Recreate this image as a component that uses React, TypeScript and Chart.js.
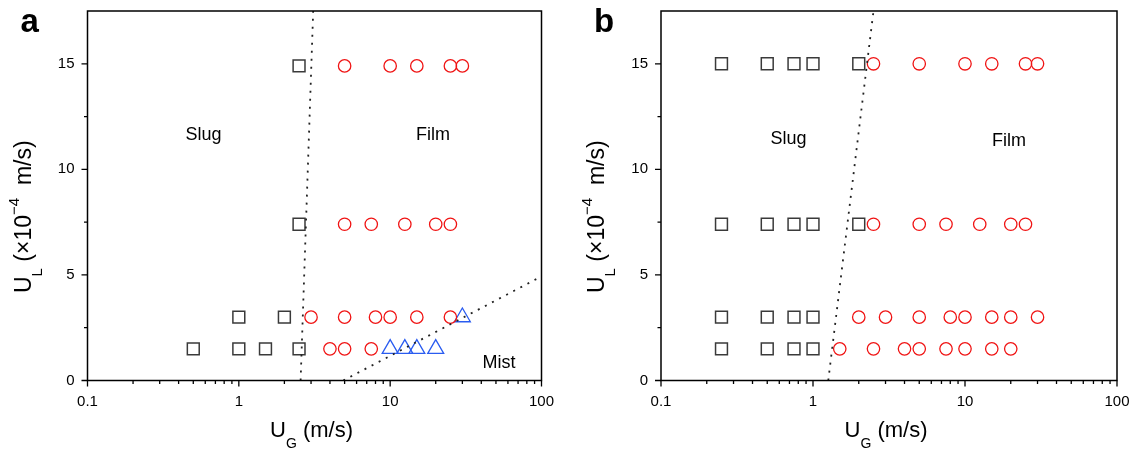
import React, { useEffect, useRef } from "react";
import { Chart, registerables } from "chart.js";

Chart.register(...registerables);

const FONT = "'Liberation Sans', Arial, Helvetica, sans-serif";

// ---------- Panel a data ----------
const rowsA = [14.9, 7.4, 3, 1.5];
const slugXA = [[2.5], [2.5], [1, 2], [0.5, 1, 1.5, 2.5]];
const filmXA = [
  [5, 10, 15, 25, 30],
  [5, 7.5, 12.5, 20, 25],
  [3, 5, 8, 10, 15, 25],
  [4, 5, 7.5],
];
const mistXA = [[], [], [30], [10, 12.5, 15, 20]];
const boundaryA1 = [[2.56, 0], [3.1, 17.5]];
const boundaryA2 = [[4.9, 0], [100, 4.93]];
const regionLabelsA = [
  { text: "Slug", x: 0.584, y: 11.41 },
  { text: "Film", x: 19.2, y: 11.41 },
  { text: "Mist", x: 52.3, y: 0.6 },
];

// ---------- Panel b data ----------
const rowsB = [15, 7.4, 3, 1.5];
const slugXB = [
  [0.25, 0.5, 0.75, 1, 2],
  [0.25, 0.5, 0.75, 1, 2],
  [0.25, 0.5, 0.75, 1],
  [0.25, 0.5, 0.75, 1],
];
const filmXB = [
  [2.5, 5, 10, 15, 25, 30],
  [2.5, 5, 7.5, 12.5, 20, 25],
  [2, 3, 5, 8, 10, 15, 20, 30],
  [1.5, 2.5, 4, 5, 7.5, 10, 15, 20],
];
const boundaryB = [[1.26, 0], [2.5, 17.5]];
const regionLabelsB = [
  { text: "Slug", x: 0.691, y: 11.18 },
  { text: "Film", x: 19.45, y: 11.09 },
];

// ---------- Axes ----------
const X_MIN = 0.1;
const X_MAX = 100;
const Y_MIN = 0;
const Y_MAX = 17.5;
const yMajorTicks = [0, 5, 10, 15];
const yMinorTicks = [2.5, 7.5, 12.5];

const toPoints = (rows: number[], xs: number[][]) =>
  rows.flatMap((y, i) => xs[i].map((x) => ({ x, y })));
const toLine = (pts: number[][]) => pts.map(([x, y]) => ({ x, y }));

type Seg = { t: string; size: number; dy: number };

function drawSegs(ctx: CanvasRenderingContext2D, segs: Seg[], x0: number, y0: number, align: "left" | "center") {
  let total = 0;
  for (const s of segs) {
    ctx.font = `${s.size}px ${FONT}`;
    total += ctx.measureText(s.t).width;
  }
  let x = align === "center" ? x0 - total / 2 : x0;
  ctx.textAlign = "left";
  ctx.textBaseline = "alphabetic";
  for (const s of segs) {
    ctx.font = `${s.size}px ${FONT}`;
    ctx.fillText(s.t, x, y0 + s.dy);
    x += ctx.measureText(s.t).width;
  }
}

const xTitle: Seg[] = [
  { t: "U", size: 22, dy: 0 },
  { t: "G", size: 14, dy: 11 },
  { t: " (m/s)", size: 22, dy: 0 },
];
const yTitle: Seg[] = [
  { t: "U", size: 23, dy: 0 },
  { t: "L", size: 15, dy: 11 },
  { t: " (\u00d710", size: 23, dy: 0 },
  { t: "\u22124", size: 15, dy: -12 },
  { t: "  m/s)", size: 23, dy: 0 },
];

const decorPlugin = {
  id: "decor",
  afterDraw(chart: any, _args: any, opts: any) {
    const { ctx, chartArea: ca, scales } = chart;
    const xs = scales.x;
    const ys = scales.y;
    ctx.save();
    ctx.strokeStyle = "#000";
    ctx.lineWidth = 1.5;
    ctx.strokeRect(ca.left, ca.top, ca.right - ca.left, ca.bottom - ca.top);
    ctx.lineWidth = 1.3;
    ctx.beginPath();
    for (let e = -1; e <= 2; e++) {
      for (let m = 1; m <= 9; m++) {
        const v = m * Math.pow(10, e);
        if (v > X_MAX * 1.0001) break;
        const px = xs.getPixelForValue(v);
        const len = m === 1 ? 6 : 3.5;
        ctx.moveTo(px, ca.bottom);
        ctx.lineTo(px, ca.bottom + len);
      }
    }
    for (const v of yMajorTicks) {
      const py = ys.getPixelForValue(v);
      ctx.moveTo(ca.left, py);
      ctx.lineTo(ca.left - 6, py);
    }
    for (const v of yMinorTicks) {
      const py = ys.getPixelForValue(v);
      ctx.moveTo(ca.left, py);
      ctx.lineTo(ca.left - 3.5, py);
    }
    ctx.stroke();

    ctx.fillStyle = "#000";
    // region labels
    ctx.font = `18px ${FONT}`;
    ctx.textAlign = "center";
    ctx.textBaseline = "alphabetic";
    for (const l of opts.labels) {
      ctx.fillText(l.text, xs.getPixelForValue(l.x), ys.getPixelForValue(l.y));
    }
    // panel letter
    ctx.font = `bold 33px ${FONT}`;
    ctx.textAlign = "left";
    ctx.fillText(opts.letter, ca.left - 67, 32);
    // x title
    drawSegs(ctx, xTitle, (ca.left + ca.right) / 2 - 3, ca.bottom + 56.5, "center");
    // y title
    ctx.save();
    ctx.translate(ca.left - 57, 293);
    ctx.rotate(-Math.PI / 2);
    drawSegs(ctx, yTitle, 0, 0, "left");
    ctx.restore();
    ctx.restore();
  },
};

const isDecade = (v: number) => Math.abs(Math.log10(v) - Math.round(Math.log10(v))) < 1e-6;

function makeConfig(datasets: any[], yAxisWidth: number, padRight: number, letter: string, labels: any[]) {
  return {
    type: "scatter",
    data: { datasets },
    options: {
      animation: false,
      responsive: false,
      devicePixelRatio: 1,
      events: [],
      layout: { padding: { left: 0, right: padRight, top: 11, bottom: 0 } },
      plugins: {
        legend: { display: false },
        tooltip: { enabled: false },
        decor: { letter, labels },
      },
      scales: {
        x: {
          type: "logarithmic",
          min: X_MIN,
          max: X_MAX,
          grid: { display: false, drawTicks: false },
          border: { display: false },
          ticks: {
            autoSkip: false,
            maxRotation: 0,
            minRotation: 0,
            padding: 12,
            color: "#000",
            font: { family: FONT, size: 15 },
            callback: (v: number) => (isDecade(v) ? (v < 1 ? "0.1" : String(Math.round(v))) : ""),
          },
          afterFit: (s: any) => {
            s.height = 68.5;
            s.paddingLeft = 0;
            s.paddingRight = 0;
          },
        },
        y: {
          type: "linear",
          min: Y_MIN,
          max: Y_MAX,
          grid: { display: false, drawTicks: false },
          border: { display: false },
          ticks: {
            stepSize: 5,
            includeBounds: false,
            padding: 13,
            color: "#000",
            font: { family: FONT, size: 15 },
            callback: (v: number) => (v % 5 === 0 ? String(v) : ""),
          },
          afterFit: (s: any) => {
            s.width = yAxisWidth;
            s.paddingTop = 0;
            s.paddingBottom = 0;
          },
        },
      },
    },
    plugins: [decorPlugin],
  };
}

const lineStyle = {
  showLine: true,
  pointRadius: 0,
  borderColor: "#222",
  borderWidth: 1.8,
  borderDash: [2, 6],
  fill: false,
};
const squareStyle = {
  pointStyle: "rect",
  pointRadius: 8.4,
  pointBorderWidth: 1.5,
  borderColor: "#3a3a3a",
  backgroundColor: "rgba(0,0,0,0)",
};
const circleStyle = {
  pointStyle: "circle",
  pointRadius: 6.2,
  pointBorderWidth: 1.3,
  borderColor: "#f01414",
  backgroundColor: "rgba(0,0,0,0)",
};
const triangleStyle = {
  pointStyle: "triangle",
  pointRadius: 9.2,
  pointBorderWidth: 1.3,
  borderColor: "#2a5cf0",
  backgroundColor: "rgba(0,0,0,0)",
};

export default function App() {
  const refA = useRef<HTMLCanvasElement>(null);
  const refB = useRef<HTMLCanvasElement>(null);

  useEffect(() => {
    const dsA = [
      { ...lineStyle, data: toLine(boundaryA1) },
      { ...lineStyle, data: toLine(boundaryA2) },
      { ...squareStyle, data: toPoints(rowsA, slugXA) },
      { ...circleStyle, data: toPoints(rowsA, filmXA) },
      { ...triangleStyle, data: toPoints(rowsA, mistXA) },
    ];
    const dsB = [
      { ...lineStyle, data: toLine(boundaryB) },
      { ...squareStyle, data: toPoints(rowsB, slugXB) },
      { ...circleStyle, data: toPoints(rowsB, filmXB) },
    ];
    const a = new Chart(refA.current as HTMLCanvasElement, makeConfig(dsA, 87.5, 25.5, "a", regionLabelsA) as any);
    const b = new Chart(refB.current as HTMLCanvasElement, makeConfig(dsB, 94, 18, "b", regionLabelsB) as any);
    return () => {
      a.destroy();
      b.destroy();
    };
  }, []);

  return (
    <div style={{ position: "fixed", left: 0, top: 0, width: 1135, height: 449, background: "#fff" }}>
      <canvas ref={refA} width={567} height={449} style={{ position: "absolute", left: 0, top: 0 }} />
      <canvas ref={refB} width={568} height={449} style={{ position: "absolute", left: 567, top: 0 }} />
    </div>
  );
}
